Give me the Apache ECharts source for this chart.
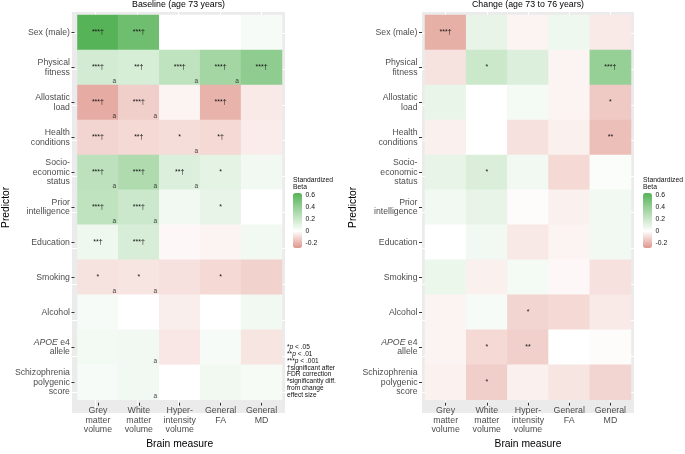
<!DOCTYPE html>
<html>
<head>
<meta charset="utf-8">
<script src="https://cdn.jsdelivr.net/npm/echarts@6/dist/echarts.min.js"></script>
<style>html,body{margin:0;padding:0;background:#fff}#c{width:685px;height:454px}</style>
</head>
<body>
<div id="c"></div>
<script>
// ---- data ----
const predictors = ['Sex (male)','Physical\nfitness','Allostatic\nload','Health\nconditions','Socio-\neconomic\nstatus','Prior\nintelligence','Education','Smoking','Alcohol','APOE e4\nallele','Schizophrenia\npolygenic\nscore'];
const measures = ['Grey\nmatter\nvolume','White\nmatter\nvolume','Hyper-\nintensity\nvolume','General\nFA','General\nMD'];
const legendTicks = [-0.2, 0, 0.2, 0.4, 0.6];

const baselineBeta = [
  [0.63, 0.54, 0.002, 0.005, 0.03],
  [0.165, 0.155, 0.24, 0.34, 0.42],
  [-0.22, -0.13, -0.03, -0.2, -0.055],
  [-0.11, -0.10, -0.09, -0.10, -0.05],
  [0.25, 0.30, 0.13, 0.10, 0.05],
  [0.24, 0.19, 0.05, 0.09, 0.0],
  [0.06, 0.15, -0.02, -0.03, 0.05],
  [-0.077, -0.07, -0.08, -0.10, -0.12],
  [0.03, 0.0, -0.045, 0.005, 0.05],
  [0.045, 0.05, -0.065, 0.03, -0.07],
  [0.03, 0.05, 0.002, 0.055, 0.035]
];
const changeBeta = [
  [-0.21, 0.09, -0.03, 0.06, -0.055],
  [-0.077, 0.195, 0.13, -0.03, 0.39],
  [0.08, 0.0, 0.04, -0.03, -0.14],
  [-0.04, 0.0, -0.08, -0.04, -0.17],
  [0.09, 0.14, 0.05, -0.10, 0.02],
  [0.05, 0.09, -0.01, -0.04, 0.05],
  [0.003, 0.05, -0.06, -0.03, 0.05],
  [0.07, -0.04, 0.04, -0.02, -0.08],
  [-0.03, 0.03, -0.11, -0.10, -0.055],
  [-0.03, -0.10, -0.125, 0.0, -0.01],
  [-0.035, -0.13, -0.04, -0.07, -0.11]
];
const baselineSig = [
  ['***†','***†','','',''],
  ['***†','**†','***†','***†','***†'],
  ['***†','***†','','***†',''],
  ['***†','**†','*','*†',''],
  ['***†','***†','**†','*',''],
  ['***†','***†','','*',''],
  ['**†','***†','','',''],
  ['*','*','','*',''],
  ['','','','',''],
  ['','','','',''],
  ['','','','','']
];
const baselineDiff = [
  [0,0,0,0,0],
  [1,0,1,1,0],
  [1,1,0,0,0],
  [0,0,1,0,0],
  [1,1,1,0,0],
  [1,1,0,0,0],
  [0,0,0,0,0],
  [1,1,0,0,0],
  [0,0,0,0,0],
  [0,1,0,0,0],
  [0,1,0,0,0]
];
const changeSig = [
  ['***†','','','',''],
  ['','*','','','***†'],
  ['','','','','*'],
  ['','','','','**'],
  ['','*','','',''],
  ['','','','',''],
  ['','','','',''],
  ['','','','',''],
  ['','','*','',''],
  ['','*','**','',''],
  ['','*','','','']
];
const footnoteLines = ['*p < .05', '**p < .01', '***p < .001', '†significant after', 'FDR correction', 'ªsignificantly diff.', 'from change', 'effect size'];

// ---- colour scale (white at 0) ----
const VMIN = -0.28, VMAX = 0.63;
const LOW = [223,149,138], HIGH = [87,179,87];
function colorAt(v){
  const t = v < 0 ? v / VMIN : v / VMAX;
  const c = v < 0 ? LOW : HIGH;
  return 'rgb(' + c.map(k => Math.round(255 + (k - 255) * Math.min(1, t))).join(',') + ')';
}
const stops = [];
for (let i = 0; i <= 91; i++) stops.push(colorAt(VMIN + i * 0.01));

function cells(m){ const out=[]; m.forEach((row,r)=>row.forEach((v,c)=>out.push([c,r,v]))); return out; }
function marks(m){ const out=[]; m.forEach((row,r)=>row.forEach((f,c)=>{ if(f) out.push([c,r]); })); return out; }

const FONT = 'Liberation Sans, Arial, sans-serif';
const axisGrey = '#4D4D4D';

function bgAxes(gi){
  return {
    x: {type:'value', gridIndex:gi, min:-0.5725, max:4.5725, splitNumber:5, axisLine:{show:false}, axisTick:{show:false}, axisLabel:{show:false},
        splitLine:{show:true, showMinLine:false, showMaxLine:false, lineStyle:{color:'#fff', width:1}}},
    y: {type:'value', gridIndex:gi, min:-0.5836, max:10.5836, splitNumber:11, axisLine:{show:false}, axisTick:{show:false}, axisLabel:{show:false},
        splitLine:{show:true, showMinLine:false, showMaxLine:false, lineStyle:{color:'#fff', width:1}}}
  };
}
function cellAxes(gi, yNameGap){
  return {
    x: {type:'category', gridIndex:gi, data:measures, offset:3, axisLine:{show:false},
        axisTick:{show:true, alignWithLabel:true, interval:0, length:3, lineStyle:{color:'#333'}},
        axisLabel:{interval:0, fontSize:8.8, lineHeight:9.3, color:axisGrey, margin:3.5, fontFamily:FONT},
        splitLine:{show:false},
        name:'Brain measure', nameLocation:'middle', nameGap:31, nameTextStyle:{fontSize:10.3, color:'#000', fontFamily:FONT}},
    y: {type:'category', gridIndex:gi, data:predictors, inverse:true, offset:3, axisLine:{show:false},
        axisTick:{show:true, alignWithLabel:true, interval:0, length:3, lineStyle:{color:'#333'}},
        axisLabel:{interval:0, fontSize:8.7, lineHeight:9.5, color:axisGrey, margin:4.5, fontFamily:FONT,
          formatter: s => s.replace('APOE', '{i|APOE}'),
          rich:{i:{fontStyle:'italic', fontSize:8.7, lineHeight:9.5, color:axisGrey, fontFamily:FONT}}},
        splitLine:{show:false},
        name:'Predictor', nameLocation:'middle', nameGap:yNameGap, nameTextStyle:{fontSize:10.3, color:'#000', fontFamily:FONT}}
  };
}
function legendAxes(gi){
  return {
    x: {type:'value', gridIndex:gi, min:0, max:1, show:false},
    y: {type:'value', gridIndex:gi, min:VMIN, max:VMAX, position:'right', z:10,
        axisLine:{show:false}, splitLine:{show:false},
        axisTick:{show:true, inside:true, length:2, customValues:legendTicks, lineStyle:{color:'#fff', width:1}},
        axisLabel:{show:true, customValues:legendTicks, margin:3.5, fontSize:6.8, color:'#111', fontFamily:FONT,
          formatter: v => (Math.abs(v) < 1e-9 ? '0' : String(+v.toFixed(1)))}}
  };
}

const A0 = bgAxes(0), A1 = cellAxes(1, 60), A2 = bgAxes(2), A3 = cellAxes(3, 63), A4 = legendAxes(4), A5 = legendAxes(5);

function heat(xi, yi, data, sig){
  return {
    type:'heatmap', xAxisIndex:xi, yAxisIndex:yi, data:cells(data),
    itemStyle:{borderWidth:0},
    label:{show:true, fontSize:7, color:'#111', fontFamily:FONT,
      formatter: p => sig[p.data[1]][p.data[0]]},
    emphasis:{disabled:true}
  };
}
function aMarks(xi, yi, flags){
  return {
    type:'scatter', xAxisIndex:xi, yAxisIndex:yi, data:marks(flags), symbolSize:0.01,
    itemStyle:{color:'transparent'},
    label:{show:true, position:'inside', offset:[16.5, 13.5], formatter:'a', fontSize:6.5, color:'#111', fontFamily:FONT},
    z:5
  };
}

const legendTitle = 'Standardized\nBeta';
function footText(s){
  return s.replace(/^([*]+)p/, '$1{i|p}');
}

const chart = echarts.init(document.getElementById('c'), null, {renderer:'canvas'});
chart.setOption({
  animation:false,
  textStyle:{fontFamily:FONT},
  title:[
    {text:'Baseline (age 73 years)', left:178.5, top:0, textAlign:'center', padding:0, textStyle:{fontSize:8.8, fontWeight:'normal', color:'#000', lineHeight:10}},
    {text:'Change (age 73 to 76 years)', left:528, top:0, textAlign:'center', padding:0, textStyle:{fontSize:8.8, fontWeight:'normal', color:'#000', lineHeight:10}},
    {text:legendTitle, left:293, top:176.5, padding:0, textStyle:{fontSize:6.8, fontWeight:'normal', color:'#111', lineHeight:7}},
    {text:legendTitle, left:643, top:176.5, padding:0, textStyle:{fontSize:6.8, fontWeight:'normal', color:'#111', lineHeight:7}}
  ].concat(footnoteLines.map((s, k) => ({
      text: footText(s), left:287, top:344 + k * 6.75, padding:0,
      textStyle:{fontSize:6.6, fontWeight:'normal', color:'#111', lineHeight:7,
        rich:{i:{fontStyle:'italic', fontSize:6.6, lineHeight:7, color:'#111', fontFamily:FONT}}}
   }))),
  grid:[
    {left:72, top:12, width:213, height:401, show:true, backgroundColor:'#EBEBEB', borderWidth:0},
    {left:75, top:15, width:207, height:395},
    {left:422, top:12, width:212, height:401, show:true, backgroundColor:'#EBEBEB', borderWidth:0},
    {left:425, top:15, width:206, height:395},
    {left:293, top:193, width:9, height:55},
    {left:643, top:193, width:9, height:55}
  ],
  xAxis:[A0.x, A1.x, A2.x, A3.x, A4.x, A5.x],
  yAxis:[A0.y, A1.y, A2.y, A3.y, A4.y, A5.y],
  visualMap:[
    {type:'continuous', min:VMIN, max:VMAX, seriesIndex:0, left:293, top:193, itemWidth:9, itemHeight:55, padding:0,
     calculable:false, inRange:{color:stops}, hoverLink:false},
    {type:'continuous', min:VMIN, max:VMAX, seriesIndex:1, left:643, top:193, itemWidth:9, itemHeight:55, padding:0,
     calculable:false, inRange:{color:stops}, hoverLink:false}
  ],
  series:[
    heat(1, 1, baselineBeta, baselineSig),
    heat(3, 3, changeBeta, changeSig),
    aMarks(1, 1, baselineDiff)
  ]
});
</script>
</body>
</html>
